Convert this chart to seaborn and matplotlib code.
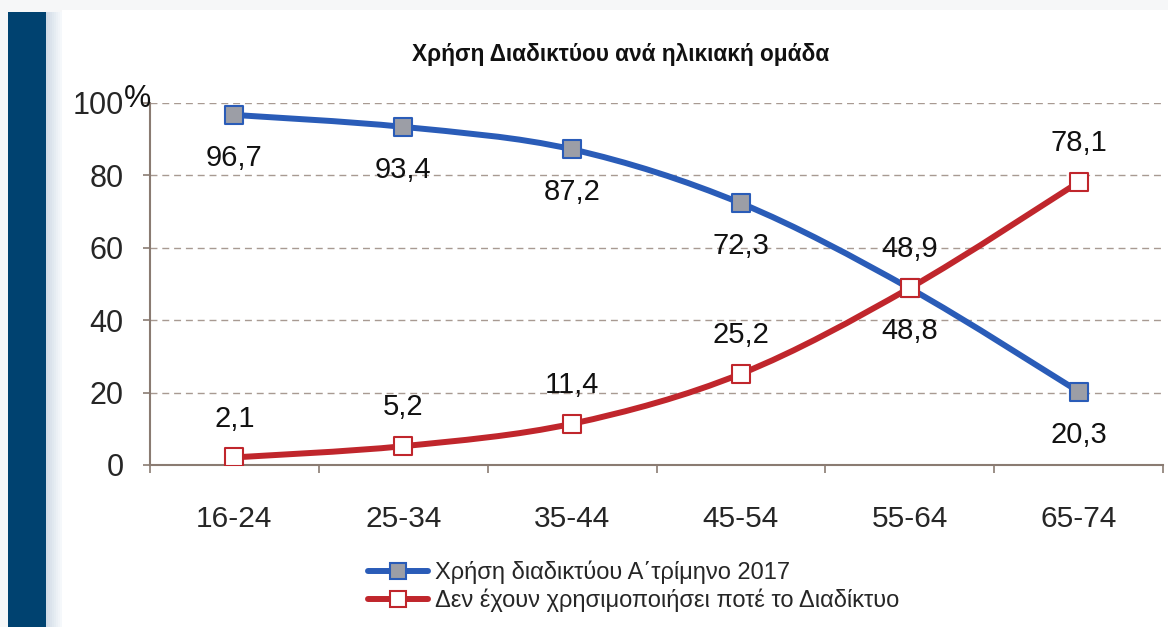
import numpy as np
import pandas as pd
import matplotlib
matplotlib.use("Agg")
import matplotlib.pyplot as plt
from matplotlib.path import Path
from matplotlib.patches import PathPatch, Rectangle
from matplotlib.lines import Line2D
import seaborn as sns

# ---- data ----
age_groups = ["16-24", "25-34", "35-44", "45-54", "55-64", "65-74"]
internet_use = [96.7, 93.4, 87.2, 72.3, 48.8, 20.3]
never_used = [2.1, 5.2, 11.4, 25.2, 48.9, 78.1]
series_names = ["Χρήση διαδικτύου Α΄τρίμηνο 2017",
                "Δεν έχουν χρησιμοποιήσει ποτέ το Διαδίκτυο"]
y_ticks = [0, 20, 40, 60, 80, 100]
title = "Χρήση Διαδικτύου ανά ηλικιακή ομάδα"

sns.set_style("white")
plt.rcParams["font.family"] = ["Liberation Sans", "DejaVu Sans"]

BLUE = "#2a5cb8"
RED = "#c0262c"
AXIS = "#8a7b72"
GRID = "#a89a92"
NAVY = "#004270"

fig = plt.figure(figsize=(11.68, 6.27), dpi=100)
fig.patch.set_facecolor("#f6f7f8")

# page panel and side band
fig.add_artist(Rectangle((62 / 1168, 0), 1 - 62 / 1168, 1 - 10 / 627,
                         transform=fig.transFigure, facecolor="white",
                         edgecolor="none", zorder=0))
for i in range(8):
    fig.add_artist(Rectangle(((46 + 2 * i) / 1168, 0), 2 / 1168, 1 - 12 / 627,
                             transform=fig.transFigure,
                             facecolor=(0.82 + 0.02 * i, 0.86 + 0.016 * i, 0.90 + 0.012 * i),
                             edgecolor="none", zorder=0))
fig.add_artist(Rectangle((8 / 1168, 0), 38 / 1168, 1 - 12 / 627,
                         transform=fig.transFigure, facecolor=NAVY,
                         edgecolor="none", zorder=1))

ax = fig.add_axes([150 / 1168, 1 - 465 / 627, 1013 / 1168, 362 / 627])
ax.set_facecolor("none")

pos = np.arange(len(age_groups))
df = pd.DataFrame({
    "pos": np.concatenate([pos, pos]),
    "value": internet_use + never_used,
    "series": [series_names[0]] * len(pos) + [series_names[1]] * len(pos),
})


def smooth_path(xs, ys):
    """Bezier path through the points (Excel-style smoothed line)."""
    pts = np.column_stack([xs, ys]).astype(float)
    n = len(pts)
    verts = [pts[0]]
    codes = [Path.MOVETO]
    for i in range(n - 1):
        p0 = pts[i - 1] if i > 0 else pts[i]
        p1, p2 = pts[i], pts[i + 1]
        p3 = pts[i + 2] if i + 2 < n else pts[i + 1]
        c1 = p1 + (p2 - p0) / 6.0
        c2 = p2 - (p3 - p1) / 6.0
        verts += [c1, c2, p2]
        codes += [Path.CURVE4] * 3
    return Path(verts, codes)


LW = 4.3
for vals, col in [(internet_use, BLUE), (never_used, RED)]:
    ax.add_patch(PathPatch(smooth_path(pos, vals), facecolor="none",
                           edgecolor=col, lw=LW, zorder=3,
                           capstyle="round", joinstyle="round"))

sns.scatterplot(data=df[df.series == series_names[0]], x="pos", y="value",
                marker="s", s=160, color="#9c9ea6", edgecolor=BLUE,
                linewidth=1.5, zorder=4, ax=ax, legend=False)
sns.scatterplot(data=df[df.series == series_names[1]], x="pos", y="value",
                marker="s", s=160, color="white", edgecolor=RED,
                linewidth=1.5, zorder=5, ax=ax, legend=False)

# value labels
for x, v in zip(pos, internet_use):
    ax.annotate(f"{v:.1f}".replace(".", ","), (x, v), xytext=(0, -31),
                textcoords="offset points", ha="center", va="center",
                fontsize=21, color="#111111", zorder=6)
for x, v in zip(pos, never_used):
    ax.annotate(f"{v:.1f}".replace(".", ","), (x, v), xytext=(0, 28),
                textcoords="offset points", ha="center", va="center",
                fontsize=21, color="#111111", zorder=6)

ax.set_xlim(-0.5, len(age_groups) - 0.5)
ax.set_ylim(0, 100)
ax.set_yticks(y_ticks)
ax.set_yticklabels([str(t) for t in y_ticks])
ax.set_xticks(np.arange(len(age_groups) + 1) - 0.5)
ax.set_xticklabels([])
ax.set_xticks(pos, minor=True)
ax.set_xticklabels(age_groups, minor=True)
ax.set_xlabel("")
ax.set_ylabel("")

ax.tick_params(axis="y", which="major", length=5, width=1.2, color=AXIS,
               labelsize=22, pad=14, direction="out", left=True)
ax.tick_params(axis="x", which="major", length=6, width=1.2, color=AXIS,
               direction="out", bottom=True)
ax.tick_params(axis="x", which="minor", length=0, labelsize=21.5, pad=29)

for s in ["top", "right"]:
    ax.spines[s].set_visible(False)
for s in ["left", "bottom"]:
    ax.spines[s].set_color(AXIS)
    ax.spines[s].set_linewidth(1.5)
    ax.spines[s].set_zorder(2)

for t in y_ticks[1:]:
    ax.axhline(t, color=GRID, lw=1.0, ls=(0, (5, 3.5)), zorder=1)

# percent sign beside the top tick label
ax.text(-0.574, 101.0, "%", fontsize=22, ha="center", va="center",
        color="#111111", transform=ax.transData, clip_on=False)

fig.text(621 / 1168, 1 - 55 / 627, title, fontsize=16.3, fontweight="bold",
         ha="center", va="center", color="#111111")

handles = [
    Line2D([], [], color=BLUE, lw=LW, marker="s", markersize=12,
           markerfacecolor="#9c9ea6", markeredgecolor=BLUE, markeredgewidth=1.5),
    Line2D([], [], color=RED, lw=LW, marker="s", markersize=12,
           markerfacecolor="white", markeredgecolor=RED, markeredgewidth=1.5),
]
fig.legend(handles, series_names, loc="upper left",
           bbox_to_anchor=(368 / 1168, 1 - 561 / 627), frameon=False,
           fontsize=17, handlelength=2.55, handletextpad=0.3,
           labelspacing=0.17, borderpad=0, borderaxespad=0)

fig.savefig("out.png", dpi=100, facecolor=fig.get_facecolor())
